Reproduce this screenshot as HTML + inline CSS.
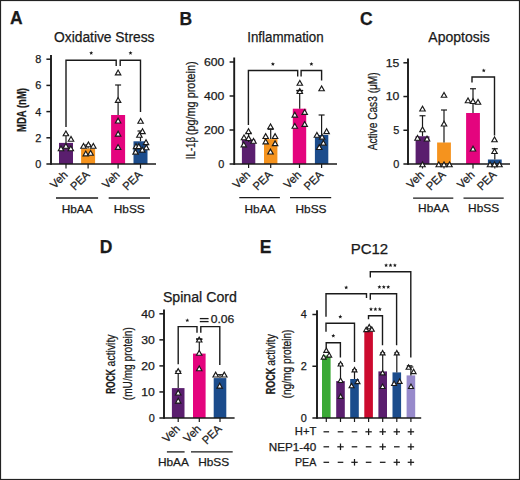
<!DOCTYPE html>
<html><head><meta charset="utf-8"><style>
html,body{margin:0;padding:0;background:#fff;}
body{width:520px;height:480px;overflow:hidden;}
svg{display:block;}
text{font-family:"Liberation Sans",sans-serif;fill:#1a1a1a;stroke:#1a1a1a;stroke-width:0.25px;}
</style></head><body>
<svg width="520" height="480" viewBox="0 0 520 480">
<rect x="0" y="0" width="520" height="480" fill="#fff"/>
<rect x="0.5" y="0.5" width="519" height="479" fill="none" stroke="#222" stroke-width="1.2"/>
<text x="10" y="24.4" font-size="17.5" text-anchor="start" font-weight="bold" stroke-width="0.5">A</text>
<text x="54" y="41.9" font-size="14" text-anchor="start" font-weight="normal" textLength="100.5" lengthAdjust="spacingAndGlyphs">Oxidative Stress</text>
<line x1="51" y1="55" x2="51" y2="164.85" stroke="#1a1a1a" stroke-width="1.9"/>
<line x1="46.4" y1="59.2" x2="51" y2="59.2" stroke="#1a1a1a" stroke-width="1.5"/>
<text x="41.4" y="63.1" font-size="10.9" text-anchor="end" font-weight="normal" stroke-width="0">8</text>
<line x1="46.4" y1="85.4" x2="51" y2="85.4" stroke="#1a1a1a" stroke-width="1.5"/>
<text x="41.4" y="89.30000000000001" font-size="10.9" text-anchor="end" font-weight="normal" stroke-width="0">6</text>
<line x1="46.4" y1="111.6" x2="51" y2="111.6" stroke="#1a1a1a" stroke-width="1.5"/>
<text x="41.4" y="115.5" font-size="10.9" text-anchor="end" font-weight="normal" stroke-width="0">4</text>
<line x1="46.4" y1="137.8" x2="51" y2="137.8" stroke="#1a1a1a" stroke-width="1.5"/>
<text x="41.4" y="141.70000000000002" font-size="10.9" text-anchor="end" font-weight="normal" stroke-width="0">2</text>
<line x1="46.4" y1="164.0" x2="51" y2="164.0" stroke="#1a1a1a" stroke-width="1.5"/>
<text x="41.4" y="167.9" font-size="10.9" text-anchor="end" font-weight="normal" stroke-width="0">0</text>
<rect x="59.0" y="142.9" width="14" height="21.099999999999994" fill="#5a1e6e"/>
<rect x="81.1" y="148.5" width="14" height="15.5" fill="#f5931e"/>
<rect x="111.1" y="115" width="14" height="49" fill="#e4047e"/>
<rect x="133.5" y="141.3" width="14" height="22.69999999999999" fill="#1b4c8c"/>
<line x1="118.1" y1="115" x2="118.1" y2="85" stroke="#1a1a1a" stroke-width="1.2"/>
<line x1="115.1" y1="85" x2="121.1" y2="85" stroke="#1a1a1a" stroke-width="1.2"/>
<line x1="140.5" y1="141.3" x2="140.5" y2="131" stroke="#1a1a1a" stroke-width="1.2"/>
<line x1="137.5" y1="131" x2="143.5" y2="131" stroke="#1a1a1a" stroke-width="1.2"/>
<line x1="66" y1="142.9" x2="66" y2="135" stroke="#1a1a1a" stroke-width="1.2"/>
<line x1="63.0" y1="135" x2="69.0" y2="135" stroke="#1a1a1a" stroke-width="1.2"/>
<line x1="88.1" y1="148.5" x2="88.1" y2="145" stroke="#1a1a1a" stroke-width="1.2"/>
<line x1="85.1" y1="145" x2="91.1" y2="145" stroke="#1a1a1a" stroke-width="1.2"/>
<line x1="51" y1="164" x2="156" y2="164" stroke="#1a1a1a" stroke-width="1.7"/>
<line x1="66" y1="164" x2="66" y2="168.5" stroke="#1a1a1a" stroke-width="1.2"/>
<line x1="88.1" y1="164" x2="88.1" y2="168.5" stroke="#1a1a1a" stroke-width="1.2"/>
<line x1="118.1" y1="164" x2="118.1" y2="168.5" stroke="#1a1a1a" stroke-width="1.2"/>
<line x1="140.5" y1="164" x2="140.5" y2="168.5" stroke="#1a1a1a" stroke-width="1.2"/>
<polyline points="66,127 66,60.2 116.2,60.2 116.2,66" fill="none" stroke="#1a1a1a" stroke-width="1.4" stroke-linejoin="miter"/>
<polyline points="120.2,66 120.2,60.2 140.5,60.2 140.5,112" fill="none" stroke="#1a1a1a" stroke-width="1.4" stroke-linejoin="miter"/>
<polygon points="91.20,50.90 91.76,52.23 93.20,52.35 92.10,53.29 92.43,54.70 91.20,53.95 89.97,54.70 90.30,53.29 89.20,52.35 90.64,52.23" fill="#1a1a1a"/>
<polygon points="130.50,50.90 131.06,52.23 132.50,52.35 131.40,53.29 131.73,54.70 130.50,53.95 129.27,54.70 129.60,53.29 128.50,52.35 129.94,52.23" fill="#1a1a1a"/>
<polygon points="65.9,130.948 63.172000000000004,135.7968 68.628,135.7968" fill="#fff" stroke="#1a1a1a" stroke-width="1.15" stroke-linejoin="miter"/>
<polygon points="71,136.448 68.272,141.2968 73.728,141.2968" fill="#fff" stroke="#1a1a1a" stroke-width="1.15" stroke-linejoin="miter"/>
<polygon points="65.9,143.448 63.172000000000004,148.2968 68.628,148.2968" fill="#fff" stroke="#1a1a1a" stroke-width="1.15" stroke-linejoin="miter"/>
<polygon points="61,145.948 58.272,150.7968 63.728,150.7968" fill="#fff" stroke="#1a1a1a" stroke-width="1.15" stroke-linejoin="miter"/>
<polygon points="70.8,145.948 68.072,150.7968 73.52799999999999,150.7968" fill="#fff" stroke="#1a1a1a" stroke-width="1.15" stroke-linejoin="miter"/>
<polygon points="83.5,143.448 80.772,148.2968 86.228,148.2968" fill="#fff" stroke="#1a1a1a" stroke-width="1.15" stroke-linejoin="miter"/>
<polygon points="88.4,141.948 85.67200000000001,146.7968 91.128,146.7968" fill="#fff" stroke="#1a1a1a" stroke-width="1.15" stroke-linejoin="miter"/>
<polygon points="93.3,143.448 90.572,148.2968 96.02799999999999,148.2968" fill="#fff" stroke="#1a1a1a" stroke-width="1.15" stroke-linejoin="miter"/>
<polygon points="85.8,151.048 83.072,155.89679999999998 88.52799999999999,155.89679999999998" fill="#fff" stroke="#1a1a1a" stroke-width="1.15" stroke-linejoin="miter"/>
<polygon points="90.6,150.448 87.872,155.2968 93.32799999999999,155.2968" fill="#fff" stroke="#1a1a1a" stroke-width="1.15" stroke-linejoin="miter"/>
<polygon points="118.1,70.04799999999999 115.372,74.8968 120.82799999999999,74.8968" fill="#fff" stroke="#1a1a1a" stroke-width="1.15" stroke-linejoin="miter"/>
<polygon points="118.1,97.54799999999999 115.372,102.3968 120.82799999999999,102.3968" fill="#fff" stroke="#1a1a1a" stroke-width="1.15" stroke-linejoin="miter"/>
<polygon points="118.1,118.148 115.372,122.99680000000001 120.82799999999999,122.99680000000001" fill="#fff" stroke="#1a1a1a" stroke-width="1.15" stroke-linejoin="miter"/>
<polygon points="118.1,131.24800000000002 115.372,136.0968 120.82799999999999,136.0968" fill="#fff" stroke="#1a1a1a" stroke-width="1.15" stroke-linejoin="miter"/>
<polygon points="118.1,144.548 115.372,149.39679999999998 120.82799999999999,149.39679999999998" fill="#fff" stroke="#1a1a1a" stroke-width="1.15" stroke-linejoin="miter"/>
<polygon points="140.6,118.448 137.87199999999999,123.2968 143.328,123.2968" fill="#fff" stroke="#1a1a1a" stroke-width="1.15" stroke-linejoin="miter"/>
<polygon points="142.5,128.74800000000002 139.772,133.5968 145.228,133.5968" fill="#fff" stroke="#1a1a1a" stroke-width="1.15" stroke-linejoin="miter"/>
<polygon points="139.4,132.448 136.672,137.2968 142.12800000000001,137.2968" fill="#fff" stroke="#1a1a1a" stroke-width="1.15" stroke-linejoin="miter"/>
<polygon points="146,139.74800000000002 143.272,144.5968 148.728,144.5968" fill="#fff" stroke="#1a1a1a" stroke-width="1.15" stroke-linejoin="miter"/>
<polygon points="136,143.74800000000002 133.272,148.5968 138.728,148.5968" fill="#fff" stroke="#1a1a1a" stroke-width="1.15" stroke-linejoin="miter"/>
<polygon points="138.8,143.74800000000002 136.072,148.5968 141.52800000000002,148.5968" fill="#fff" stroke="#1a1a1a" stroke-width="1.15" stroke-linejoin="miter"/>
<polygon points="146.3,144.948 143.572,149.7968 149.02800000000002,149.7968" fill="#fff" stroke="#1a1a1a" stroke-width="1.15" stroke-linejoin="miter"/>
<polygon points="135.6,149.348 132.87199999999999,154.1968 138.328,154.1968" fill="#fff" stroke="#1a1a1a" stroke-width="1.15" stroke-linejoin="miter"/>
<polygon points="142.3,147.24800000000002 139.572,152.0968 145.02800000000002,152.0968" fill="#fff" stroke="#1a1a1a" stroke-width="1.15" stroke-linejoin="miter"/>
<text transform="translate(68.4,175.5) rotate(-45)" font-size="11.4" text-anchor="end" font-weight="normal" textLength="19.3" lengthAdjust="spacingAndGlyphs" stroke-width="0">Veh</text>
<text transform="translate(90.5,175.5) rotate(-45)" font-size="11.4" text-anchor="end" font-weight="normal" textLength="22.0" lengthAdjust="spacingAndGlyphs" stroke-width="0">PEA</text>
<text transform="translate(120.5,175.5) rotate(-45)" font-size="11.4" text-anchor="end" font-weight="normal" textLength="19.3" lengthAdjust="spacingAndGlyphs" stroke-width="0">Veh</text>
<text transform="translate(142.9,175.5) rotate(-45)" font-size="11.4" text-anchor="end" font-weight="normal" textLength="22.0" lengthAdjust="spacingAndGlyphs" stroke-width="0">PEA</text>
<line x1="56" y1="198" x2="98.1" y2="198" stroke="#1a1a1a" stroke-width="1.3"/>
<line x1="108.7" y1="198" x2="150" y2="198" stroke="#1a1a1a" stroke-width="1.3"/>
<text x="77.2" y="212.7" font-size="11.2" text-anchor="middle" font-weight="normal" textLength="31" lengthAdjust="spacingAndGlyphs" stroke-width="0">HbAA</text>
<text x="129.3" y="212.7" font-size="11.2" text-anchor="middle" font-weight="normal" textLength="31" lengthAdjust="spacingAndGlyphs" stroke-width="0">HbSS</text>
<text transform="translate(25.5,110) rotate(-90)" font-size="12" text-anchor="middle" font-weight="bold" textLength="44" lengthAdjust="spacingAndGlyphs">MDA (nM)</text>
<text x="179.5" y="24.8" font-size="17.5" text-anchor="start" font-weight="bold" stroke-width="0.5">B</text>
<text x="247.2" y="42.3" font-size="14" text-anchor="start" font-weight="normal" textLength="76.5" lengthAdjust="spacingAndGlyphs">Inflammation</text>
<line x1="234.2" y1="57.5" x2="234.2" y2="164.85" stroke="#1a1a1a" stroke-width="1.9"/>
<line x1="229.6" y1="61.999999999999986" x2="234.2" y2="61.999999999999986" stroke="#1a1a1a" stroke-width="1.5"/>
<text x="224.29999999999998" y="65.89999999999999" font-size="10.9" text-anchor="end" font-weight="normal" textLength="20.4" lengthAdjust="spacingAndGlyphs" stroke-width="0">600</text>
<line x1="229.6" y1="96.0" x2="234.2" y2="96.0" stroke="#1a1a1a" stroke-width="1.5"/>
<text x="224.29999999999998" y="99.9" font-size="10.9" text-anchor="end" font-weight="normal" textLength="20.4" lengthAdjust="spacingAndGlyphs" stroke-width="0">400</text>
<line x1="229.6" y1="130.0" x2="234.2" y2="130.0" stroke="#1a1a1a" stroke-width="1.5"/>
<text x="224.29999999999998" y="133.9" font-size="10.9" text-anchor="end" font-weight="normal" textLength="20.4" lengthAdjust="spacingAndGlyphs" stroke-width="0">200</text>
<line x1="229.6" y1="164.0" x2="234.2" y2="164.0" stroke="#1a1a1a" stroke-width="1.5"/>
<text x="224.29999999999998" y="167.9" font-size="10.9" text-anchor="end" font-weight="normal" stroke-width="0">0</text>
<rect x="241.9" y="139.5" width="13.4" height="24.5" fill="#5a1e6e"/>
<rect x="264.0" y="139.1" width="13.4" height="24.900000000000006" fill="#f5931e"/>
<rect x="292.8" y="108.7" width="13.4" height="55.3" fill="#e4047e"/>
<rect x="314.90000000000003" y="135" width="13.4" height="29" fill="#1b4c8c"/>
<line x1="299.7" y1="108.7" x2="299.7" y2="92" stroke="#1a1a1a" stroke-width="1.2"/>
<line x1="296.7" y1="92" x2="302.7" y2="92" stroke="#1a1a1a" stroke-width="1.2"/>
<line x1="321.6" y1="135" x2="321.6" y2="115" stroke="#1a1a1a" stroke-width="1.2"/>
<line x1="318.6" y1="115" x2="324.6" y2="115" stroke="#1a1a1a" stroke-width="1.2"/>
<line x1="270.7" y1="139.1" x2="270.7" y2="129.3" stroke="#1a1a1a" stroke-width="1.2"/>
<line x1="267.7" y1="129.3" x2="273.7" y2="129.3" stroke="#1a1a1a" stroke-width="1.2"/>
<line x1="248.6" y1="142" x2="248.6" y2="133" stroke="#1a1a1a" stroke-width="1.2"/>
<line x1="245.6" y1="133" x2="251.6" y2="133" stroke="#1a1a1a" stroke-width="1.2"/>
<line x1="234.2" y1="164" x2="337" y2="164" stroke="#1a1a1a" stroke-width="1.7"/>
<line x1="248.6" y1="164" x2="248.6" y2="168" stroke="#1a1a1a" stroke-width="1.2"/>
<line x1="270.7" y1="164" x2="270.7" y2="168" stroke="#1a1a1a" stroke-width="1.2"/>
<line x1="299.5" y1="164" x2="299.5" y2="168" stroke="#1a1a1a" stroke-width="1.2"/>
<line x1="321.6" y1="164" x2="321.6" y2="168" stroke="#1a1a1a" stroke-width="1.2"/>
<polyline points="248.4,125 248.4,70.5 297.7,70.5 297.7,76.5" fill="none" stroke="#1a1a1a" stroke-width="1.4" stroke-linejoin="miter"/>
<polyline points="301.1,76.5 301.1,70.5 321.6,70.5 321.6,80.5" fill="none" stroke="#1a1a1a" stroke-width="1.4" stroke-linejoin="miter"/>
<polygon points="272.90,62.00 273.46,63.33 274.90,63.45 273.80,64.39 274.13,65.80 272.90,65.05 271.67,65.80 272.00,64.39 270.90,63.45 272.34,63.33" fill="#1a1a1a"/>
<polygon points="311.40,62.00 311.96,63.33 313.40,63.45 312.30,64.39 312.63,65.80 311.40,65.05 310.17,65.80 310.50,64.39 309.40,63.45 310.84,63.33" fill="#1a1a1a"/>
<polygon points="248.5,128.74800000000002 245.772,133.5968 251.228,133.5968" fill="#fff" stroke="#1a1a1a" stroke-width="1.15" stroke-linejoin="miter"/>
<polygon points="244.0,134.948 241.272,139.7968 246.728,139.7968" fill="#fff" stroke="#1a1a1a" stroke-width="1.15" stroke-linejoin="miter"/>
<polygon points="248.6,135.648 245.87199999999999,140.49679999999998 251.328,140.49679999999998" fill="#fff" stroke="#1a1a1a" stroke-width="1.15" stroke-linejoin="miter"/>
<polygon points="253.5,138.448 250.772,143.2968 256.228,143.2968" fill="#fff" stroke="#1a1a1a" stroke-width="1.15" stroke-linejoin="miter"/>
<polygon points="243.8,142.048 241.072,146.89679999999998 246.52800000000002,146.89679999999998" fill="#fff" stroke="#1a1a1a" stroke-width="1.15" stroke-linejoin="miter"/>
<polygon points="270.5,123.948 267.772,128.7968 273.228,128.7968" fill="#fff" stroke="#1a1a1a" stroke-width="1.15" stroke-linejoin="miter"/>
<polygon points="265.7,133.648 262.972,138.49679999999998 268.428,138.49679999999998" fill="#fff" stroke="#1a1a1a" stroke-width="1.15" stroke-linejoin="miter"/>
<polygon points="275.1,133.648 272.372,138.49679999999998 277.82800000000003,138.49679999999998" fill="#fff" stroke="#1a1a1a" stroke-width="1.15" stroke-linejoin="miter"/>
<polygon points="265.7,139.048 262.972,143.89679999999998 268.428,143.89679999999998" fill="#fff" stroke="#1a1a1a" stroke-width="1.15" stroke-linejoin="miter"/>
<polygon points="275.1,140.848 272.372,145.6968 277.82800000000003,145.6968" fill="#fff" stroke="#1a1a1a" stroke-width="1.15" stroke-linejoin="miter"/>
<polygon points="270.5,149.148 267.772,153.99679999999998 273.228,153.99679999999998" fill="#fff" stroke="#1a1a1a" stroke-width="1.15" stroke-linejoin="miter"/>
<polygon points="299.8,80.448 297.072,85.2968 302.528,85.2968" fill="#fff" stroke="#1a1a1a" stroke-width="1.15" stroke-linejoin="miter"/>
<polygon points="299.8,88.648 297.072,93.49680000000001 302.528,93.49680000000001" fill="#fff" stroke="#1a1a1a" stroke-width="1.15" stroke-linejoin="miter"/>
<polygon points="294.8,112.24799999999999 292.072,117.0968 297.528,117.0968" fill="#fff" stroke="#1a1a1a" stroke-width="1.15" stroke-linejoin="miter"/>
<polygon points="304.7,109.54799999999999 301.972,114.3968 307.428,114.3968" fill="#fff" stroke="#1a1a1a" stroke-width="1.15" stroke-linejoin="miter"/>
<polygon points="294.8,123.448 292.072,128.2968 297.528,128.2968" fill="#fff" stroke="#1a1a1a" stroke-width="1.15" stroke-linejoin="miter"/>
<polygon points="304.7,121.54799999999999 301.972,126.3968 307.428,126.3968" fill="#fff" stroke="#1a1a1a" stroke-width="1.15" stroke-linejoin="miter"/>
<line x1="296.2" y1="90.5" x2="303.2" y2="90.5" stroke="#1a1a1a" stroke-width="1.3"/>
<polygon points="321.6,85.948 318.872,90.7968 324.32800000000003,90.7968" fill="#fff" stroke="#1a1a1a" stroke-width="1.15" stroke-linejoin="miter"/>
<polygon points="316.9,132.448 314.17199999999997,137.2968 319.628,137.2968" fill="#fff" stroke="#1a1a1a" stroke-width="1.15" stroke-linejoin="miter"/>
<polygon points="326.6,128.74800000000002 323.872,133.5968 329.32800000000003,133.5968" fill="#fff" stroke="#1a1a1a" stroke-width="1.15" stroke-linejoin="miter"/>
<polygon points="322.1,134.348 319.372,139.1968 324.82800000000003,139.1968" fill="#fff" stroke="#1a1a1a" stroke-width="1.15" stroke-linejoin="miter"/>
<polygon points="323.4,140.348 320.67199999999997,145.1968 326.128,145.1968" fill="#fff" stroke="#1a1a1a" stroke-width="1.15" stroke-linejoin="miter"/>
<polygon points="319.3,144.648 316.572,149.49679999999998 322.028,149.49679999999998" fill="#fff" stroke="#1a1a1a" stroke-width="1.15" stroke-linejoin="miter"/>
<text transform="translate(251.0,175.5) rotate(-45)" font-size="11.4" text-anchor="end" font-weight="normal" textLength="19.3" lengthAdjust="spacingAndGlyphs" stroke-width="0">Veh</text>
<text transform="translate(273.09999999999997,175.5) rotate(-45)" font-size="11.4" text-anchor="end" font-weight="normal" textLength="22.0" lengthAdjust="spacingAndGlyphs" stroke-width="0">PEA</text>
<text transform="translate(301.9,175.5) rotate(-45)" font-size="11.4" text-anchor="end" font-weight="normal" textLength="19.3" lengthAdjust="spacingAndGlyphs" stroke-width="0">Veh</text>
<text transform="translate(324.0,175.5) rotate(-45)" font-size="11.4" text-anchor="end" font-weight="normal" textLength="22.0" lengthAdjust="spacingAndGlyphs" stroke-width="0">PEA</text>
<line x1="239.3" y1="197.6" x2="279.9" y2="197.6" stroke="#1a1a1a" stroke-width="1.3"/>
<line x1="290" y1="197.6" x2="331.2" y2="197.6" stroke="#1a1a1a" stroke-width="1.3"/>
<text x="260" y="213.0" font-size="11.2" text-anchor="middle" font-weight="normal" textLength="31" lengthAdjust="spacingAndGlyphs" stroke-width="0">HbAA</text>
<text x="311" y="213.0" font-size="11.2" text-anchor="middle" font-weight="normal" textLength="31" lengthAdjust="spacingAndGlyphs" stroke-width="0">HbSS</text>
<text transform="translate(195.2,159.2) rotate(-90)" font-size="12.3" text-anchor="start" font-weight="normal" textLength="22.3" lengthAdjust="spacingAndGlyphs">IL-1β</text>
<text transform="translate(195.2,135.2) rotate(-90)" font-size="12.3" text-anchor="start" font-weight="normal" textLength="73.8" lengthAdjust="spacingAndGlyphs">(pg/mg protein)</text>
<text x="360" y="24.8" font-size="17.5" text-anchor="start" font-weight="bold" stroke-width="0.5">C</text>
<text x="428.3" y="42.4" font-size="14" text-anchor="start" font-weight="normal" textLength="61.5" lengthAdjust="spacingAndGlyphs">Apoptosis</text>
<line x1="408" y1="58.5" x2="408" y2="164.85" stroke="#1a1a1a" stroke-width="1.9"/>
<line x1="403.4" y1="62.8" x2="408" y2="62.8" stroke="#1a1a1a" stroke-width="1.5"/>
<text x="399.3" y="66.7" font-size="10.9" text-anchor="end" font-weight="normal" textLength="13.6" lengthAdjust="spacingAndGlyphs" stroke-width="0">15</text>
<line x1="403.4" y1="96.53333333333333" x2="408" y2="96.53333333333333" stroke="#1a1a1a" stroke-width="1.5"/>
<text x="399.3" y="100.43333333333334" font-size="10.9" text-anchor="end" font-weight="normal" textLength="13.6" lengthAdjust="spacingAndGlyphs" stroke-width="0">10</text>
<line x1="403.4" y1="130.26666666666665" x2="408" y2="130.26666666666665" stroke="#1a1a1a" stroke-width="1.5"/>
<text x="399.3" y="134.16666666666666" font-size="10.9" text-anchor="end" font-weight="normal" stroke-width="0">5</text>
<line x1="403.4" y1="164.0" x2="408" y2="164.0" stroke="#1a1a1a" stroke-width="1.5"/>
<text x="399.3" y="167.9" font-size="10.9" text-anchor="end" font-weight="normal" stroke-width="0">0</text>
<rect x="415.6" y="136.25" width="13.8" height="27.75" fill="#5a1e6e"/>
<rect x="437.1" y="142.5" width="13.8" height="21.5" fill="#f5931e"/>
<rect x="466.1" y="113" width="13.8" height="51" fill="#e4047e"/>
<rect x="487.90000000000003" y="159.5" width="13.8" height="4.5" fill="#1b4c8c"/>
<line x1="422.5" y1="136.25" x2="422.5" y2="115.75" stroke="#1a1a1a" stroke-width="1.2"/>
<line x1="419.5" y1="115.75" x2="425.5" y2="115.75" stroke="#1a1a1a" stroke-width="1.2"/>
<line x1="444" y1="142.5" x2="444" y2="110" stroke="#1a1a1a" stroke-width="1.2"/>
<line x1="441.0" y1="110" x2="447.0" y2="110" stroke="#1a1a1a" stroke-width="1.2"/>
<line x1="473" y1="113" x2="473" y2="88.75" stroke="#1a1a1a" stroke-width="1.2"/>
<line x1="470.0" y1="88.75" x2="476.0" y2="88.75" stroke="#1a1a1a" stroke-width="1.2"/>
<line x1="494.8" y1="159.5" x2="494.8" y2="148.75" stroke="#1a1a1a" stroke-width="1.2"/>
<line x1="491.8" y1="148.75" x2="497.8" y2="148.75" stroke="#1a1a1a" stroke-width="1.2"/>
<line x1="408" y1="164" x2="510" y2="164" stroke="#1a1a1a" stroke-width="1.7"/>
<line x1="422.5" y1="164" x2="422.5" y2="168.5" stroke="#1a1a1a" stroke-width="1.2"/>
<line x1="444" y1="164" x2="444" y2="168.5" stroke="#1a1a1a" stroke-width="1.2"/>
<line x1="473" y1="164" x2="473" y2="168.5" stroke="#1a1a1a" stroke-width="1.2"/>
<line x1="494.8" y1="164" x2="494.8" y2="168.5" stroke="#1a1a1a" stroke-width="1.2"/>
<polyline points="472,82.5 472,77 494.5,77 494.5,135.5" fill="none" stroke="#1a1a1a" stroke-width="1.4" stroke-linejoin="miter"/>
<polygon points="483.75,68.40 484.31,69.73 485.75,69.85 484.65,70.79 484.98,72.20 483.75,71.45 482.52,72.20 482.85,70.79 481.75,69.85 483.19,69.73" fill="#1a1a1a"/>
<polygon points="422.5,106.198 419.772,111.0468 425.228,111.0468" fill="#fff" stroke="#1a1a1a" stroke-width="1.15" stroke-linejoin="miter"/>
<polygon points="422.5,126.948 419.772,131.7968 425.228,131.7968" fill="#fff" stroke="#1a1a1a" stroke-width="1.15" stroke-linejoin="miter"/>
<polygon points="417.5,135.448 414.772,140.2968 420.228,140.2968" fill="#fff" stroke="#1a1a1a" stroke-width="1.15" stroke-linejoin="miter"/>
<polygon points="427,136.198 424.272,141.0468 429.728,141.0468" fill="#fff" stroke="#1a1a1a" stroke-width="1.15" stroke-linejoin="miter"/>
<polygon points="422.5,161.948 419.772,166.7968 425.228,166.7968" fill="#fff" stroke="#1a1a1a" stroke-width="1.15" stroke-linejoin="miter"/>
<polygon points="444,92.448 441.272,97.2968 446.728,97.2968" fill="#fff" stroke="#1a1a1a" stroke-width="1.15" stroke-linejoin="miter"/>
<polygon points="444,121.198 441.272,126.0468 446.728,126.0468" fill="#fff" stroke="#1a1a1a" stroke-width="1.15" stroke-linejoin="miter"/>
<polygon points="438.75,161.948 436.022,166.7968 441.478,166.7968" fill="#fff" stroke="#1a1a1a" stroke-width="1.15" stroke-linejoin="miter"/>
<polygon points="444,161.948 441.272,166.7968 446.728,166.7968" fill="#fff" stroke="#1a1a1a" stroke-width="1.15" stroke-linejoin="miter"/>
<polygon points="449.5,161.948 446.772,166.7968 452.228,166.7968" fill="#fff" stroke="#1a1a1a" stroke-width="1.15" stroke-linejoin="miter"/>
<polygon points="468,97.948 465.272,102.7968 470.728,102.7968" fill="#fff" stroke="#1a1a1a" stroke-width="1.15" stroke-linejoin="miter"/>
<polygon points="473,98.698 470.272,103.5468 475.728,103.5468" fill="#fff" stroke="#1a1a1a" stroke-width="1.15" stroke-linejoin="miter"/>
<polygon points="478,99.448 475.272,104.2968 480.728,104.2968" fill="#fff" stroke="#1a1a1a" stroke-width="1.15" stroke-linejoin="miter"/>
<polygon points="473,146.198 470.272,151.0468 475.728,151.0468" fill="#fff" stroke="#1a1a1a" stroke-width="1.15" stroke-linejoin="miter"/>
<polygon points="494.5,136.948 491.772,141.7968 497.228,141.7968" fill="#fff" stroke="#1a1a1a" stroke-width="1.15" stroke-linejoin="miter"/>
<polygon points="494.5,148.698 491.772,153.5468 497.228,153.5468" fill="#fff" stroke="#1a1a1a" stroke-width="1.15" stroke-linejoin="miter"/>
<polygon points="490,161.948 487.272,166.7968 492.728,166.7968" fill="#fff" stroke="#1a1a1a" stroke-width="1.15" stroke-linejoin="miter"/>
<polygon points="494.5,161.948 491.772,166.7968 497.228,166.7968" fill="#fff" stroke="#1a1a1a" stroke-width="1.15" stroke-linejoin="miter"/>
<polygon points="499.5,161.948 496.772,166.7968 502.228,166.7968" fill="#fff" stroke="#1a1a1a" stroke-width="1.15" stroke-linejoin="miter"/>
<text transform="translate(424.9,175.5) rotate(-45)" font-size="11.4" text-anchor="end" font-weight="normal" textLength="19.3" lengthAdjust="spacingAndGlyphs" stroke-width="0">Veh</text>
<text transform="translate(446.4,175.5) rotate(-45)" font-size="11.4" text-anchor="end" font-weight="normal" textLength="22.0" lengthAdjust="spacingAndGlyphs" stroke-width="0">PEA</text>
<text transform="translate(475.4,175.5) rotate(-45)" font-size="11.4" text-anchor="end" font-weight="normal" textLength="19.3" lengthAdjust="spacingAndGlyphs" stroke-width="0">Veh</text>
<text transform="translate(497.2,175.5) rotate(-45)" font-size="11.4" text-anchor="end" font-weight="normal" textLength="22.0" lengthAdjust="spacingAndGlyphs" stroke-width="0">PEA</text>
<line x1="413.1" y1="198.1" x2="453.3" y2="198.1" stroke="#1a1a1a" stroke-width="1.3"/>
<line x1="463.5" y1="198.1" x2="503.7" y2="198.1" stroke="#1a1a1a" stroke-width="1.3"/>
<text x="433.6" y="212.4" font-size="11.2" text-anchor="middle" font-weight="normal" textLength="31" lengthAdjust="spacingAndGlyphs" stroke-width="0">HbAA</text>
<text x="483.6" y="212.4" font-size="11.2" text-anchor="middle" font-weight="normal" textLength="31" lengthAdjust="spacingAndGlyphs" stroke-width="0">HbSS</text>
<text transform="translate(376.5,111.3) rotate(-90)" font-size="12.6" text-anchor="middle" font-weight="normal" textLength="78" lengthAdjust="spacingAndGlyphs" stroke-width="0.3">Active Cas3 (μM)</text>
<text x="99.8" y="253.4" font-size="17.5" text-anchor="start" font-weight="bold" stroke-width="0.5">D</text>
<text x="162.9" y="301.5" font-size="14" text-anchor="start" font-weight="normal" textLength="74" lengthAdjust="spacingAndGlyphs">Spinal Cord</text>
<line x1="164" y1="309.5" x2="164" y2="418.85" stroke="#1a1a1a" stroke-width="1.9"/>
<line x1="159.4" y1="313.8" x2="164" y2="313.8" stroke="#1a1a1a" stroke-width="1.5"/>
<text x="154.8" y="317.7" font-size="10.9" text-anchor="end" font-weight="normal" textLength="13.6" lengthAdjust="spacingAndGlyphs" stroke-width="0">40</text>
<line x1="159.4" y1="339.85" x2="164" y2="339.85" stroke="#1a1a1a" stroke-width="1.5"/>
<text x="154.8" y="343.75" font-size="10.9" text-anchor="end" font-weight="normal" textLength="13.6" lengthAdjust="spacingAndGlyphs" stroke-width="0">30</text>
<line x1="159.4" y1="365.9" x2="164" y2="365.9" stroke="#1a1a1a" stroke-width="1.5"/>
<text x="154.8" y="369.79999999999995" font-size="10.9" text-anchor="end" font-weight="normal" textLength="13.6" lengthAdjust="spacingAndGlyphs" stroke-width="0">20</text>
<line x1="159.4" y1="391.95" x2="164" y2="391.95" stroke="#1a1a1a" stroke-width="1.5"/>
<text x="154.8" y="395.84999999999997" font-size="10.9" text-anchor="end" font-weight="normal" textLength="13.6" lengthAdjust="spacingAndGlyphs" stroke-width="0">10</text>
<line x1="159.4" y1="418.0" x2="164" y2="418.0" stroke="#1a1a1a" stroke-width="1.5"/>
<text x="154.8" y="421.9" font-size="10.9" text-anchor="end" font-weight="normal" stroke-width="0">0</text>
<rect x="171.89999999999998" y="388.1" width="12.6" height="29.899999999999977" fill="#5a1e6e"/>
<rect x="193.0" y="353.6" width="12.6" height="64.39999999999998" fill="#e4047e"/>
<rect x="213.7" y="378.1" width="12.6" height="39.89999999999998" fill="#1b4c8c"/>
<line x1="178.2" y1="388.1" x2="178.2" y2="371.2" stroke="#1a1a1a" stroke-width="1.2"/>
<line x1="175.2" y1="371.2" x2="181.2" y2="371.2" stroke="#1a1a1a" stroke-width="1.2"/>
<line x1="199.3" y1="353.6" x2="199.3" y2="339.5" stroke="#1a1a1a" stroke-width="1.2"/>
<line x1="196.3" y1="339.5" x2="202.3" y2="339.5" stroke="#1a1a1a" stroke-width="1.2"/>
<line x1="220" y1="378.1" x2="220" y2="374.7" stroke="#1a1a1a" stroke-width="1.2"/>
<line x1="217.0" y1="374.7" x2="223.0" y2="374.7" stroke="#1a1a1a" stroke-width="1.2"/>
<line x1="164" y1="418" x2="234.6" y2="418" stroke="#1a1a1a" stroke-width="1.7"/>
<line x1="178.2" y1="418" x2="178.2" y2="422" stroke="#1a1a1a" stroke-width="1.2"/>
<line x1="199.3" y1="418" x2="199.3" y2="422" stroke="#1a1a1a" stroke-width="1.2"/>
<line x1="220" y1="418" x2="220" y2="422" stroke="#1a1a1a" stroke-width="1.2"/>
<polyline points="178.2,364.3 178.2,326.6 197,326.6 197,332.8" fill="none" stroke="#1a1a1a" stroke-width="1.4" stroke-linejoin="miter"/>
<polyline points="200.8,332.8 200.8,326.6 219.8,326.6 219.8,365" fill="none" stroke="#1a1a1a" stroke-width="1.4" stroke-linejoin="miter"/>
<polygon points="187.30,318.30 187.86,319.63 189.30,319.75 188.20,320.69 188.53,322.10 187.30,321.35 186.07,322.10 186.40,320.69 185.30,319.75 186.74,319.63" fill="#1a1a1a"/>
<line x1="199.8" y1="318.6" x2="208.6" y2="318.6" stroke="#1a1a1a" stroke-width="1.3"/>
<line x1="199.8" y1="321.6" x2="208.6" y2="321.6" stroke="#1a1a1a" stroke-width="1.3"/>
<text x="210.7" y="323.1" font-size="11" text-anchor="start" font-weight="normal" textLength="23.6" lengthAdjust="spacingAndGlyphs" stroke-width="0.1">0.06</text>
<polygon points="178.2,368.64799999999997 175.47199999999998,373.4968 180.928,373.4968" fill="#fff" stroke="#1a1a1a" stroke-width="1.15" stroke-linejoin="miter"/>
<polygon points="178.2,390.14799999999997 175.47199999999998,394.9968 180.928,394.9968" fill="#fff" stroke="#1a1a1a" stroke-width="1.15" stroke-linejoin="miter"/>
<polygon points="178.2,398.248 175.47199999999998,403.09680000000003 180.928,403.09680000000003" fill="#fff" stroke="#1a1a1a" stroke-width="1.15" stroke-linejoin="miter"/>
<polygon points="199.2,337.14799999999997 196.47199999999998,341.9968 201.928,341.9968" fill="#fff" stroke="#1a1a1a" stroke-width="1.15" stroke-linejoin="miter"/>
<polygon points="199.2,350.448 196.47199999999998,355.2968 201.928,355.2968" fill="#fff" stroke="#1a1a1a" stroke-width="1.15" stroke-linejoin="miter"/>
<polygon points="199.2,365.948 196.47199999999998,370.7968 201.928,370.7968" fill="#fff" stroke="#1a1a1a" stroke-width="1.15" stroke-linejoin="miter"/>
<line x1="196" y1="338.9" x2="202.4" y2="338.9" stroke="#1a1a1a" stroke-width="1.3"/>
<polygon points="215.7,372.14799999999997 212.97199999999998,376.9968 218.428,376.9968" fill="#fff" stroke="#1a1a1a" stroke-width="1.15" stroke-linejoin="miter"/>
<polygon points="224.3,372.14799999999997 221.572,376.9968 227.02800000000002,376.9968" fill="#fff" stroke="#1a1a1a" stroke-width="1.15" stroke-linejoin="miter"/>
<polygon points="219.7,383.248 216.97199999999998,388.09680000000003 222.428,388.09680000000003" fill="#fff" stroke="#1a1a1a" stroke-width="1.15" stroke-linejoin="miter"/>
<text transform="translate(180.6,429.5) rotate(-45)" font-size="11.4" text-anchor="end" font-weight="normal" textLength="19.3" lengthAdjust="spacingAndGlyphs" stroke-width="0">Veh</text>
<text transform="translate(201.70000000000002,429.5) rotate(-45)" font-size="11.4" text-anchor="end" font-weight="normal" textLength="19.3" lengthAdjust="spacingAndGlyphs" stroke-width="0">Veh</text>
<text transform="translate(222.4,429.5) rotate(-45)" font-size="11.4" text-anchor="end" font-weight="normal" textLength="22.0" lengthAdjust="spacingAndGlyphs" stroke-width="0">PEA</text>
<line x1="166.9" y1="451.9" x2="184.6" y2="451.9" stroke="#1a1a1a" stroke-width="1.3"/>
<line x1="191" y1="451.9" x2="232.7" y2="451.9" stroke="#1a1a1a" stroke-width="1.3"/>
<text x="173.4" y="466.1" font-size="11.2" text-anchor="middle" font-weight="normal" textLength="31" lengthAdjust="spacingAndGlyphs" stroke-width="0">HbAA</text>
<text x="213.7" y="466.1" font-size="11.2" text-anchor="middle" font-weight="normal" textLength="31" lengthAdjust="spacingAndGlyphs" stroke-width="0">HbSS</text>
<text transform="translate(114.7,393.7) rotate(-90)" font-size="12.3" text-anchor="start" font-weight="bold" textLength="24.3" lengthAdjust="spacingAndGlyphs" stroke-width="0.1">ROCK</text>
<text transform="translate(114.7,366.4) rotate(-90)" font-size="12.3" text-anchor="start" font-weight="normal" textLength="32" lengthAdjust="spacingAndGlyphs">activity</text>
<text transform="translate(131.6,400.2) rotate(-90)" font-size="12.3" text-anchor="start" font-weight="normal" textLength="73" lengthAdjust="spacingAndGlyphs">(mU/mg protein)</text>
<text x="259.8" y="253.4" font-size="17.5" text-anchor="start" font-weight="bold" stroke-width="0.5">E</text>
<text x="350.7" y="254.3" font-size="14" text-anchor="start" font-weight="normal" textLength="37.5" lengthAdjust="spacingAndGlyphs">PC12</text>
<line x1="317" y1="310.3" x2="317" y2="418.85" stroke="#1a1a1a" stroke-width="1.9"/>
<line x1="312.4" y1="314.5" x2="317" y2="314.5" stroke="#1a1a1a" stroke-width="1.5"/>
<text x="306.7" y="318.4" font-size="10.9" text-anchor="end" font-weight="normal" stroke-width="0">4</text>
<line x1="312.4" y1="366.25" x2="317" y2="366.25" stroke="#1a1a1a" stroke-width="1.5"/>
<text x="306.7" y="370.15" font-size="10.9" text-anchor="end" font-weight="normal" stroke-width="0">2</text>
<line x1="312.4" y1="418.0" x2="317" y2="418.0" stroke="#1a1a1a" stroke-width="1.5"/>
<text x="306.7" y="421.9" font-size="10.9" text-anchor="end" font-weight="normal" stroke-width="0">0</text>
<rect x="322.0" y="355.5" width="8.6" height="62.5" fill="#3aa935"/>
<rect x="336.2" y="381.1" width="8.6" height="36.89999999999998" fill="#5a1e6e"/>
<rect x="350.2" y="379" width="8.6" height="39" fill="#1b4c8c"/>
<rect x="364.3" y="330" width="8.6" height="88" fill="#cc0a2e"/>
<rect x="378.4" y="371.4" width="8.6" height="46.60000000000002" fill="#5a1e6e"/>
<rect x="392.5" y="372.4" width="8.6" height="45.60000000000002" fill="#1b4c8c"/>
<rect x="406.59999999999997" y="375.4" width="8.6" height="42.60000000000002" fill="#978acb"/>
<line x1="317" y1="418" x2="421.2" y2="418" stroke="#1a1a1a" stroke-width="1.7"/>
<line x1="326.3" y1="418" x2="326.3" y2="422" stroke="#1a1a1a" stroke-width="1.2"/>
<line x1="340.5" y1="418" x2="340.5" y2="422" stroke="#1a1a1a" stroke-width="1.2"/>
<line x1="354.5" y1="418" x2="354.5" y2="422" stroke="#1a1a1a" stroke-width="1.2"/>
<line x1="368.6" y1="418" x2="368.6" y2="422" stroke="#1a1a1a" stroke-width="1.2"/>
<line x1="382.7" y1="418" x2="382.7" y2="422" stroke="#1a1a1a" stroke-width="1.2"/>
<line x1="396.8" y1="418" x2="396.8" y2="422" stroke="#1a1a1a" stroke-width="1.2"/>
<line x1="410.9" y1="418" x2="410.9" y2="422" stroke="#1a1a1a" stroke-width="1.2"/>
<line x1="340.5" y1="381.1" x2="340.5" y2="363.9" stroke="#1a1a1a" stroke-width="1.2"/>
<line x1="338.0" y1="363.9" x2="343.0" y2="363.9" stroke="#1a1a1a" stroke-width="1.2"/>
<line x1="354.5" y1="379" x2="354.5" y2="369.8" stroke="#1a1a1a" stroke-width="1.2"/>
<line x1="352.0" y1="369.8" x2="357.0" y2="369.8" stroke="#1a1a1a" stroke-width="1.2"/>
<line x1="382.7" y1="371.4" x2="382.7" y2="352.8" stroke="#1a1a1a" stroke-width="1.2"/>
<line x1="380.2" y1="352.8" x2="385.2" y2="352.8" stroke="#1a1a1a" stroke-width="1.2"/>
<line x1="396.8" y1="372.4" x2="396.8" y2="352.8" stroke="#1a1a1a" stroke-width="1.2"/>
<line x1="394.3" y1="352.8" x2="399.3" y2="352.8" stroke="#1a1a1a" stroke-width="1.2"/>
<line x1="410.9" y1="375.4" x2="410.9" y2="367" stroke="#1a1a1a" stroke-width="1.2"/>
<line x1="408.4" y1="367" x2="413.4" y2="367" stroke="#1a1a1a" stroke-width="1.2"/>
<polyline points="326,316.7 326,293.7 366.5,293.7 366.5,298" fill="none" stroke="#1a1a1a" stroke-width="1.4" stroke-linejoin="miter"/>
<polyline points="326,331.7 326,323.3 354.5,323.3 354.5,362" fill="none" stroke="#1a1a1a" stroke-width="1.4" stroke-linejoin="miter"/>
<polyline points="326.2,348.3 326.2,342.8 340.4,342.8 340.4,357.5" fill="none" stroke="#1a1a1a" stroke-width="1.4" stroke-linejoin="miter"/>
<polyline points="370.3,277.5 370.3,271.7 410.8,271.7 410.8,357.5" fill="none" stroke="#1a1a1a" stroke-width="1.4" stroke-linejoin="miter"/>
<polyline points="370.3,299.7 370.3,293.8 396.6,293.8 396.6,345.3" fill="none" stroke="#1a1a1a" stroke-width="1.4" stroke-linejoin="miter"/>
<polyline points="368.5,319.2 368.5,315.7 382.5,315.7 382.5,345.3" fill="none" stroke="#1a1a1a" stroke-width="1.4" stroke-linejoin="miter"/>
<polygon points="346.20,285.40 346.76,286.73 348.20,286.85 347.10,287.79 347.43,289.20 346.20,288.45 344.97,289.20 345.30,287.79 344.20,286.85 345.64,286.73" fill="#1a1a1a"/>
<polygon points="340.30,314.60 340.86,315.93 342.30,316.05 341.20,316.99 341.53,318.40 340.30,317.65 339.07,318.40 339.40,316.99 338.30,316.05 339.74,315.93" fill="#1a1a1a"/>
<polygon points="333.30,333.70 333.86,335.03 335.30,335.15 334.20,336.09 334.53,337.50 333.30,336.75 332.07,337.50 332.40,336.09 331.30,335.15 332.74,335.03" fill="#1a1a1a"/>
<polygon points="386.10,263.20 386.66,264.53 388.10,264.65 387.00,265.59 387.33,267.00 386.10,266.25 384.87,267.00 385.20,265.59 384.10,264.65 385.54,264.53" fill="#1a1a1a"/>
<polygon points="390.50,263.20 391.06,264.53 392.50,264.65 391.40,265.59 391.73,267.00 390.50,266.25 389.27,267.00 389.60,265.59 388.50,264.65 389.94,264.53" fill="#1a1a1a"/>
<polygon points="394.90,263.20 395.46,264.53 396.90,264.65 395.80,265.59 396.13,267.00 394.90,266.25 393.67,267.00 394.00,265.59 392.90,264.65 394.34,264.53" fill="#1a1a1a"/>
<polygon points="379.40,284.90 379.96,286.23 381.40,286.35 380.30,287.29 380.63,288.70 379.40,287.95 378.17,288.70 378.50,287.29 377.40,286.35 378.84,286.23" fill="#1a1a1a"/>
<polygon points="383.80,284.90 384.36,286.23 385.80,286.35 384.70,287.29 385.03,288.70 383.80,287.95 382.57,288.70 382.90,287.29 381.80,286.35 383.24,286.23" fill="#1a1a1a"/>
<polygon points="388.20,284.90 388.76,286.23 390.20,286.35 389.10,287.29 389.43,288.70 388.20,287.95 386.97,288.70 387.30,287.29 386.20,286.35 387.64,286.23" fill="#1a1a1a"/>
<polygon points="371.00,307.10 371.56,308.43 373.00,308.55 371.90,309.49 372.23,310.90 371.00,310.15 369.77,310.90 370.10,309.49 369.00,308.55 370.44,308.43" fill="#1a1a1a"/>
<polygon points="375.40,307.10 375.96,308.43 377.40,308.55 376.30,309.49 376.63,310.90 375.40,310.15 374.17,310.90 374.50,309.49 373.40,308.55 374.84,308.43" fill="#1a1a1a"/>
<polygon points="379.80,307.10 380.36,308.43 381.80,308.55 380.70,309.49 381.03,310.90 379.80,310.15 378.57,310.90 378.90,309.49 377.80,308.55 379.24,308.43" fill="#1a1a1a"/>
<polygon points="326.3,347.98 323.82,352.38800000000003 328.78000000000003,352.38800000000003" fill="#fff" stroke="#1a1a1a" stroke-width="1.15" stroke-linejoin="miter"/>
<polygon points="323.7,354.68 321.21999999999997,359.088 326.18,359.088" fill="#fff" stroke="#1a1a1a" stroke-width="1.15" stroke-linejoin="miter"/>
<polygon points="329.2,352.68 326.71999999999997,357.088 331.68,357.088" fill="#fff" stroke="#1a1a1a" stroke-width="1.15" stroke-linejoin="miter"/>
<polygon points="340.6,361.58 338.12,365.988 343.08000000000004,365.988" fill="#fff" stroke="#1a1a1a" stroke-width="1.15" stroke-linejoin="miter"/>
<polygon points="340.6,378.08 338.12,382.488 343.08000000000004,382.488" fill="#fff" stroke="#1a1a1a" stroke-width="1.15" stroke-linejoin="miter"/>
<polygon points="340.6,393.98 338.12,398.38800000000003 343.08000000000004,398.38800000000003" fill="#fff" stroke="#1a1a1a" stroke-width="1.15" stroke-linejoin="miter"/>
<polygon points="354.5,367.48 352.02,371.88800000000003 356.98,371.88800000000003" fill="#fff" stroke="#1a1a1a" stroke-width="1.15" stroke-linejoin="miter"/>
<polygon points="351.6,383.38 349.12,387.788 354.08000000000004,387.788" fill="#fff" stroke="#1a1a1a" stroke-width="1.15" stroke-linejoin="miter"/>
<polygon points="357.5,379.28000000000003 355.02,383.68800000000005 359.98,383.68800000000005" fill="#fff" stroke="#1a1a1a" stroke-width="1.15" stroke-linejoin="miter"/>
<polygon points="366.2,327.18 363.71999999999997,331.588 368.68,331.588" fill="#fff" stroke="#1a1a1a" stroke-width="1.15" stroke-linejoin="miter"/>
<polygon points="369.2,324.48 366.71999999999997,328.88800000000003 371.68,328.88800000000003" fill="#fff" stroke="#1a1a1a" stroke-width="1.15" stroke-linejoin="miter"/>
<polygon points="371.8,326.88 369.32,331.288 374.28000000000003,331.288" fill="#fff" stroke="#1a1a1a" stroke-width="1.15" stroke-linejoin="miter"/>
<polygon points="382.6,350.48 380.12,354.88800000000003 385.08000000000004,354.88800000000003" fill="#fff" stroke="#1a1a1a" stroke-width="1.15" stroke-linejoin="miter"/>
<polygon points="382.6,370.48 380.12,374.88800000000003 385.08000000000004,374.88800000000003" fill="#fff" stroke="#1a1a1a" stroke-width="1.15" stroke-linejoin="miter"/>
<polygon points="382.6,384.08 380.12,388.488 385.08000000000004,388.488" fill="#fff" stroke="#1a1a1a" stroke-width="1.15" stroke-linejoin="miter"/>
<polygon points="396.8,350.48 394.32,354.88800000000003 399.28000000000003,354.88800000000003" fill="#fff" stroke="#1a1a1a" stroke-width="1.15" stroke-linejoin="miter"/>
<polygon points="394.1,381.08 391.62,385.488 396.58000000000004,385.488" fill="#fff" stroke="#1a1a1a" stroke-width="1.15" stroke-linejoin="miter"/>
<polygon points="399.6,378.98 397.12,383.38800000000003 402.08000000000004,383.38800000000003" fill="#fff" stroke="#1a1a1a" stroke-width="1.15" stroke-linejoin="miter"/>
<polygon points="408.6,364.88 406.12,369.288 411.08000000000004,369.288" fill="#fff" stroke="#1a1a1a" stroke-width="1.15" stroke-linejoin="miter"/>
<polygon points="413.6,369.18 411.12,373.588 416.08000000000004,373.588" fill="#fff" stroke="#1a1a1a" stroke-width="1.15" stroke-linejoin="miter"/>
<polygon points="411,384.08 408.52,388.488 413.48,388.488" fill="#fff" stroke="#1a1a1a" stroke-width="1.15" stroke-linejoin="miter"/>
<line x1="406.8" y1="365.8" x2="412.4" y2="365.8" stroke="#1a1a1a" stroke-width="1.2"/>
<text transform="translate(274.6,394.2) rotate(-90)" font-size="12.3" text-anchor="start" font-weight="bold" textLength="26.3" lengthAdjust="spacingAndGlyphs" stroke-width="0.1">ROCK</text>
<text transform="translate(274.6,365.7) rotate(-90)" font-size="12.3" text-anchor="start" font-weight="normal" textLength="31.6" lengthAdjust="spacingAndGlyphs">activity</text>
<text transform="translate(291.4,398.5) rotate(-90)" font-size="12.3" text-anchor="start" font-weight="normal" textLength="69" lengthAdjust="spacingAndGlyphs">(ng/mg protein)</text>
<text x="316.3" y="435.3" font-size="10.6" text-anchor="end" font-weight="normal" textLength="21.5" lengthAdjust="spacingAndGlyphs" stroke-width="0.1">H+T</text>
<line x1="323.5" y1="431.8" x2="329.1" y2="431.8" stroke="#1a1a1a" stroke-width="1.25"/>
<line x1="337.7" y1="431.8" x2="343.3" y2="431.8" stroke="#1a1a1a" stroke-width="1.25"/>
<line x1="351.7" y1="431.8" x2="357.3" y2="431.8" stroke="#1a1a1a" stroke-width="1.25"/>
<line x1="365.40000000000003" y1="431.8" x2="371.8" y2="431.8" stroke="#1a1a1a" stroke-width="1.25"/>
<line x1="368.6" y1="428.5" x2="368.6" y2="435.1" stroke="#1a1a1a" stroke-width="1.25"/>
<line x1="379.5" y1="431.8" x2="385.9" y2="431.8" stroke="#1a1a1a" stroke-width="1.25"/>
<line x1="382.7" y1="428.5" x2="382.7" y2="435.1" stroke="#1a1a1a" stroke-width="1.25"/>
<line x1="393.6" y1="431.8" x2="400.0" y2="431.8" stroke="#1a1a1a" stroke-width="1.25"/>
<line x1="396.8" y1="428.5" x2="396.8" y2="435.1" stroke="#1a1a1a" stroke-width="1.25"/>
<line x1="407.7" y1="431.8" x2="414.09999999999997" y2="431.8" stroke="#1a1a1a" stroke-width="1.25"/>
<line x1="410.9" y1="428.5" x2="410.9" y2="435.1" stroke="#1a1a1a" stroke-width="1.25"/>
<text x="316.3" y="450.5" font-size="10.6" text-anchor="end" font-weight="normal" textLength="47.5" lengthAdjust="spacingAndGlyphs" stroke-width="0.1">NEP1-40</text>
<line x1="323.5" y1="446.8" x2="329.1" y2="446.8" stroke="#1a1a1a" stroke-width="1.25"/>
<line x1="337.3" y1="446.8" x2="343.7" y2="446.8" stroke="#1a1a1a" stroke-width="1.25"/>
<line x1="340.5" y1="443.5" x2="340.5" y2="450.1" stroke="#1a1a1a" stroke-width="1.25"/>
<line x1="351.7" y1="446.8" x2="357.3" y2="446.8" stroke="#1a1a1a" stroke-width="1.25"/>
<line x1="365.8" y1="446.8" x2="371.40000000000003" y2="446.8" stroke="#1a1a1a" stroke-width="1.25"/>
<line x1="379.5" y1="446.8" x2="385.9" y2="446.8" stroke="#1a1a1a" stroke-width="1.25"/>
<line x1="382.7" y1="443.5" x2="382.7" y2="450.1" stroke="#1a1a1a" stroke-width="1.25"/>
<line x1="394.0" y1="446.8" x2="399.6" y2="446.8" stroke="#1a1a1a" stroke-width="1.25"/>
<line x1="407.7" y1="446.8" x2="414.09999999999997" y2="446.8" stroke="#1a1a1a" stroke-width="1.25"/>
<line x1="410.9" y1="443.5" x2="410.9" y2="450.1" stroke="#1a1a1a" stroke-width="1.25"/>
<text x="316.3" y="466.0" font-size="10.6" text-anchor="end" font-weight="normal" textLength="21.3" lengthAdjust="spacingAndGlyphs" stroke-width="0.1">PEA</text>
<line x1="323.5" y1="462.3" x2="329.1" y2="462.3" stroke="#1a1a1a" stroke-width="1.25"/>
<line x1="337.7" y1="462.3" x2="343.3" y2="462.3" stroke="#1a1a1a" stroke-width="1.25"/>
<line x1="351.3" y1="462.3" x2="357.7" y2="462.3" stroke="#1a1a1a" stroke-width="1.25"/>
<line x1="354.5" y1="459.0" x2="354.5" y2="465.6" stroke="#1a1a1a" stroke-width="1.25"/>
<line x1="365.8" y1="462.3" x2="371.40000000000003" y2="462.3" stroke="#1a1a1a" stroke-width="1.25"/>
<line x1="379.9" y1="462.3" x2="385.5" y2="462.3" stroke="#1a1a1a" stroke-width="1.25"/>
<line x1="393.6" y1="462.3" x2="400.0" y2="462.3" stroke="#1a1a1a" stroke-width="1.25"/>
<line x1="396.8" y1="459.0" x2="396.8" y2="465.6" stroke="#1a1a1a" stroke-width="1.25"/>
<line x1="407.7" y1="462.3" x2="414.09999999999997" y2="462.3" stroke="#1a1a1a" stroke-width="1.25"/>
<line x1="410.9" y1="459.0" x2="410.9" y2="465.6" stroke="#1a1a1a" stroke-width="1.25"/>
</svg>
</body></html>
